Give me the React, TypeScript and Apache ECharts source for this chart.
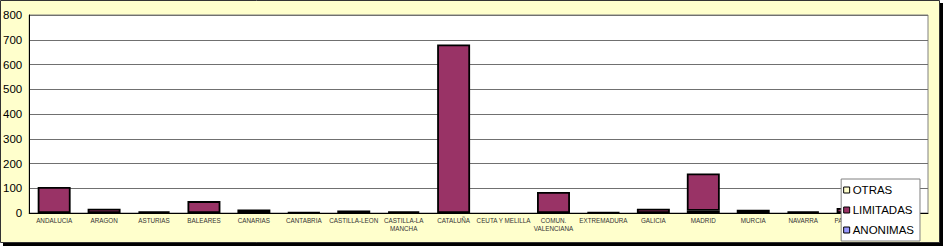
import React, { useEffect, useRef } from "react";
import * as echarts from "echarts";

const categories = [
  "ANDALUCIA", "ARAGON", "ASTURIAS", "BALEARES", "CANARIAS", "CANTABRIA",
  "CASTILLA-LEON", "CASTILLA-LA MANCHA", "CATALUÑA", "CEUTA Y MELILLA",
  "COMUN. VALENCIANA", "EXTREMADURA", "GALICIA", "MADRID", "MURCIA",
  "NAVARRA", "PAIS VASCO", "LA RIOJA",
];
const anonimas = [0, 0, 0, 0, 0, 0, 0, 0, 0, 0, 0, 0, 0, 9, 0, 0, 0, 0];
const limitadas = [105, 17, 7, 48, 14, 3, 10, 7, 681, 0, 85, 3, 17, 151, 13, 6, 20, 5];
const otras = [0, 0, 0, 0, 0, 0, 0, 0, 0, 0, 0, 0, 0, 0, 0, 0, 0, 0];
const yTicks = [0, 100, 200, 300, 400, 500, 600, 700, 800];

const toData = (arr: number[]) => arr.map((v) => (v === 0 ? "-" : v));

export default function App() {
  const ref = useRef<HTMLDivElement>(null);
  useEffect(() => {
    document.body.style.margin = "0";
    const chart = echarts.init(ref.current!, null, { renderer: "svg" });
    const barStyle = (color: string) => ({
      color,
      borderColor: "#000",
      borderWidth: 1.8,
    });
    chart.setOption({
      animation: false,
      backgroundColor: "transparent",
      graphic: [
        { type: "rect", z: -10, shape: { x: 3, y: 3, width: 940, height: 243 }, style: { fill: "#000" } },
        { type: "rect", z: -9, shape: { x: 0.5, y: 0.5, width: 939, height: 242 }, style: { fill: "#FFFFCC", stroke: "#333", lineWidth: 1 } },
      ],
      grid: {
        left: 29, top: 15, right: 16, bottom: 34,
        show: true, backgroundColor: "#fff", borderColor: "#808080", borderWidth: 1,
      },
      legend: {
        orient: "vertical",
        right: 24, bottom: 6,
        data: ["OTRAS", "LIMITADAS", "ANONIMAS"],
        backgroundColor: "#fff",
        borderColor: "#808080",
        borderWidth: 1,
        padding: [5, 6, 5, 2],
        itemGap: 8,
        itemWidth: 6,
        itemHeight: 6,
        icon: "rect",
        itemStyle: { borderColor: "#000", borderWidth: 1 },
        textStyle: { fontFamily: "Liberation Sans, Arial", fontSize: 11.5, color: "#000", padding: [0, 0, 0, -2] },
      },
      xAxis: {
        type: "category",
        data: categories,
        axisLine: { lineStyle: { color: "#000", width: 1 } },
        axisTick: { show: false },
        axisLabel: {
          interval: 0,
          fontSize: 6.3,
          color: "#333",
          fontFamily: "Liberation Sans, Arial",
          lineHeight: 7.5,
          margin: 4,
          formatter: (v: string) => v.replace("LA MANCHA", "LA\nMANCHA").replace("COMUN. ", "COMUN.\n"),
        },
      },
      yAxis: {
        type: "value",
        min: 0,
        max: yTicks[yTicks.length - 1],
        interval: 100,
        axisLine: { show: true, lineStyle: { color: "#000", width: 1 } },
        axisTick: { show: false },
        splitLine: { lineStyle: { color: "#707070", width: 1 } },
        axisLabel: { fontSize: 11.5, color: "#000", fontFamily: "Liberation Sans, Arial", margin: 7 },
      },
      series: [
        { name: "ANONIMAS", type: "bar", stack: "s", data: toData(anonimas), barCategoryGap: "34%", itemStyle: barStyle("#9999FF") },
        { name: "LIMITADAS", type: "bar", stack: "s", data: toData(limitadas), barCategoryGap: "34%", itemStyle: barStyle("#993366") },
        { name: "OTRAS", type: "bar", stack: "s", data: toData(otras), barCategoryGap: "34%", itemStyle: barStyle("#FFFFCC") },
      ],
    });
    return () => chart.dispose();
  }, []);
  return <div ref={ref} style={{ width: 944, height: 247 }} />;
}
